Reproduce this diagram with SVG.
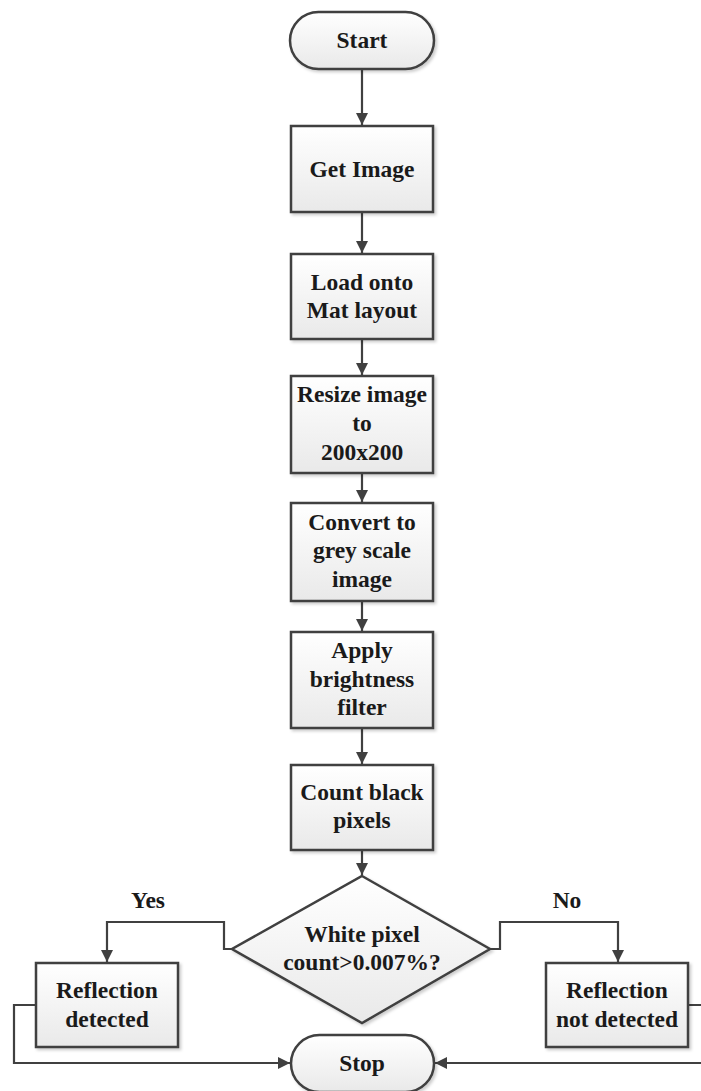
<svg xmlns="http://www.w3.org/2000/svg" width="701" height="1091" viewBox="0 0 701 1091">
<style>
.n{fill:url(#g);stroke:#3f3f3f;stroke-width:2.5;filter:url(#sh)}
.t{font-family:"Liberation Serif","Times New Roman",serif;font-weight:bold;font-size:23.5px;fill:#1a1a1a;text-anchor:middle}
.c{fill:none;stroke:#404040;stroke-width:2.2}
</style>
<defs>
<linearGradient id="g" x1="0" y1="0" x2="0" y2="1"><stop offset="0" stop-color="#ffffff"/><stop offset="1" stop-color="#e9e9e9"/></linearGradient>
<filter id="sh" x="-10%" y="-10%" width="125%" height="130%"><feDropShadow dx="2" dy="2" stdDeviation="1.5" flood-color="#000" flood-opacity="0.2"/></filter>
<marker id="a" viewBox="0 0 12 12" refX="12" refY="6" markerWidth="12" markerHeight="12" markerUnits="userSpaceOnUse" orient="auto"><path d="M0,0 L12,6 L0,12 Z" fill="#404040"/></marker>
</defs>
<g id="connectors">
<path class="c" d="M362,69 V125" marker-end="url(#a)"/>
<path class="c" d="M362,212 V253" marker-end="url(#a)"/>
<path class="c" d="M362,339 V375" marker-end="url(#a)"/>
<path class="c" d="M362,473 V502" marker-end="url(#a)"/>
<path class="c" d="M362,601 V631" marker-end="url(#a)"/>
<path class="c" d="M362,728 V764" marker-end="url(#a)"/>
<path class="c" d="M362,850 V875" marker-end="url(#a)"/>
<path class="c" d="M232,949 H224 V922 H107 V962" marker-end="url(#a)"/>
<path class="c" d="M490,949 H500 V922 H618 V962" marker-end="url(#a)"/>
<path class="c" d="M36,1005 H14 V1063 H290" marker-end="url(#a)"/>
<path class="c" d="M688,1005 H705 M705,1063 H435" marker-end="url(#a)"/>
<text class="t" x="148" y="908">Yes</text>
<text class="t" x="567" y="908">No</text>
</g>
<g id="start"><rect class="n" x="290" y="12" width="144" height="57" rx="28.5"/><text class="t" x="362" y="48">Start</text></g>
<g id="get-image"><rect class="n" x="291" y="126" width="142" height="86"/><text class="t" x="362" y="177">Get Image</text></g>
<g id="load"><rect class="n" x="291" y="254" width="142" height="85"/><text class="t" x="362" y="290">Load onto</text><text class="t" x="362" y="318">Mat layout</text></g>
<g id="resize"><rect class="n" x="291" y="376" width="142" height="97"/><text class="t" x="362" y="402">Resize image</text><text class="t" x="362" y="431">to</text><text class="t" x="362" y="460">200x200</text></g>
<g id="convert"><rect class="n" x="291" y="503" width="142" height="98"/><text class="t" x="362" y="530">Convert to</text><text class="t" x="362" y="558">grey scale</text><text class="t" x="362" y="587">image</text></g>
<g id="apply"><rect class="n" x="291" y="632" width="142" height="96"/><text class="t" x="362" y="658">Apply</text><text class="t" x="362" y="687">brightness</text><text class="t" x="362" y="715">filter</text></g>
<g id="count"><rect class="n" x="291" y="765" width="142" height="85"/><text class="t" x="362" y="800">Count black</text><text class="t" x="362" y="828">pixels</text></g>
<g id="decision"><polygon class="n" points="362,876 490,949 362,1023 232,949"/><text class="t" x="362" y="942">White pixel</text><text class="t" x="362" y="970">count&gt;0.007%?</text></g>
<g id="detected"><rect class="n" x="36" y="963" width="142" height="84"/><text class="t" x="107" y="998">Reflection</text><text class="t" x="107" y="1027">detected</text></g>
<g id="not-detected"><rect class="n" x="546" y="963" width="142" height="84"/><text class="t" x="617" y="998">Reflection</text><text class="t" x="617" y="1027">not detected</text></g>
<g id="stop"><rect class="n" x="291" y="1035" width="143" height="57" rx="28.5"/><text class="t" x="362" y="1071">Stop</text></g>
</svg>
